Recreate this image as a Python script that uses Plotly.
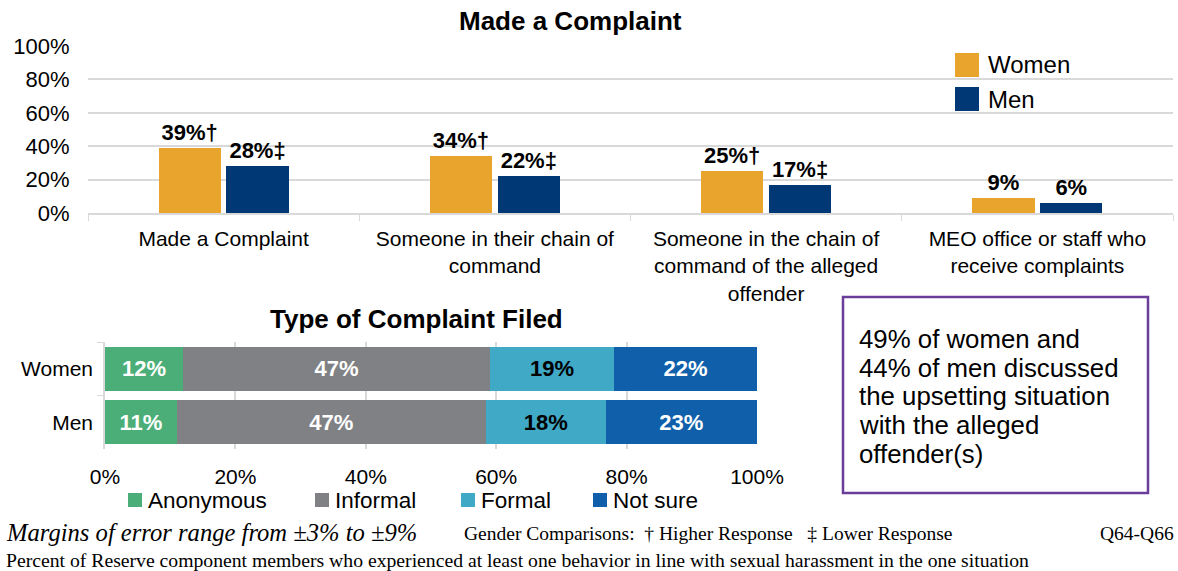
import plotly.graph_objects as go

# ---- data ----
categories = ["Made a Complaint", "Someone in their chain of<br>command",
              "Someone in the chain of<br>command of the alleged<br>offender",
              "MEO office or staff who<br>receive complaints"]
women_vals = [39, 34, 25, 9]
men_vals = [28, 22, 17, 6]
women_marks = ["†", "†", "†", ""]
men_marks = ["‡", "‡", "‡", ""]
gender_names = ["Women", "Men"]
gender_colors = ["#E8A42C", "#003876"]

groups = ["Women", "Men"]
type_names = ["Anonymous", "Informal", "Formal", "Not sure"]
type_women = [12.0, 47.0, 19.1, 21.9]
type_men = [11.0, 47.4, 18.4, 23.2]
type_colors = ["#4BAE78", "#808184", "#3FA9C6", "#0F5FAA"]
type_text_colors = ["white", "white", "black", "white"]

box_lines = ["49% of women and", "44% of men discussed", "the upsetting situation",
             "with the alleged", "offender(s)"]

W, H = 1178, 571
def px(x): return x / W
def py(y): return 1 - y / H

SANS = "Liberation Sans, Arial, sans-serif"
SERIF = "Liberation Serif, Times New Roman, serif"
GRID = "#D9D9D9"

fig = go.Figure()

for name, vals, marks, col, og in [(gender_names[0], women_vals, women_marks, gender_colors[0], "w"),
                                   (gender_names[1], men_vals, men_marks, gender_colors[1], "m")]:
    fig.add_trace(go.Bar(
        x=categories, y=vals, name=name, marker_color=col, marker_line_width=0,
        offsetgroup=og,
        text=[f"{v}%{m}" for v, m in zip(vals, marks)],
        textposition="outside",
        textfont=dict(size=22, color="black", family=SANS, weight="bold"),
        cliponaxis=False, xaxis="x", yaxis="y", showlegend=False))

for i, name in enumerate(type_names):
    vals = [type_women[i], type_men[i]]
    fig.add_trace(go.Bar(
        y=groups, x=vals, orientation="h", name=name, marker_color=type_colors[i],
        marker_line_width=0, width=0.82,
        text=[f"{round(v)}%" for v in vals], textposition="inside", insidetextanchor="middle",
        textfont=dict(size=22, color=type_text_colors[i], family=SANS, weight="bold"),
        xaxis="x2", yaxis="y2", showlegend=False))

fig.update_layout(
    width=W, height=H, margin=dict(l=0, r=0, t=0, b=0, autoexpand=False),
    paper_bgcolor="white", plot_bgcolor="white",
    font=dict(family=SANS, color="black"),
    barmode="stack", bargap=0.5, bargroupgap=0.08,
    xaxis=dict(domain=[px(88), px(1173)], anchor="y", showgrid=False, automargin=False,
               showline=True, linecolor=GRID, linewidth=1.5,
               ticks="outside", tickson="boundaries", ticklen=6, tickcolor=GRID,
               tickfont=dict(size=21), ticklabelstandoff=6),
    yaxis=dict(domain=[py(213), py(46)], anchor="x", range=[0, 100], dtick=20,
               ticksuffix="%", showgrid=True, gridcolor=GRID, gridwidth=2,
               zeroline=False, tickfont=dict(size=22), ticks="outside", ticklen=13,
               tickcolor="rgba(0,0,0,0)", automargin=False),
    xaxis2=dict(domain=[px(105), px(757)], anchor="y2", range=[0, 100], dtick=20,
                ticksuffix="%", showgrid=True, gridcolor=GRID, gridwidth=1.5,
                zeroline=False, tickfont=dict(size=21), ticks="outside", ticklen=9,
                tickcolor="rgba(0,0,0,0)", automargin=False),
    yaxis2=dict(domain=[py(449), py(342)], anchor="x2", autorange="reversed",
                showline=True, linecolor=GRID, linewidth=1.5, ticks="outside",
                tickson="boundaries", ticklen=6, tickcolor=GRID,
                tickfont=dict(size=21), ticklabelstandoff=6, automargin=False),
    showlegend=False,
)

# legend for the top chart (large square swatches)
for i, (name, col) in enumerate(zip(gender_names, gender_colors)):
    yc = 65 + 34 * i
    fig.add_shape(type="rect", xref="paper", yref="paper", x0=px(955), x1=px(979),
                  y0=py(yc + 12), y1=py(yc - 12), fillcolor=col, line=dict(width=0))
    fig.add_annotation(text=name, x=px(986), y=py(yc), xref="paper", yref="paper",
                       showarrow=False, xanchor="left", yanchor="middle",
                       font=dict(size=24, color="black"))

# legend for the bottom chart
legend2_x = [128, 315, 461, 593]
for name, col, lx in zip(type_names, type_colors, legend2_x):
    fig.add_shape(type="rect", xref="paper", yref="paper", x0=px(lx), x1=px(lx + 14),
                  y0=py(507), y1=py(493), fillcolor=col, line=dict(width=0))
    fig.add_annotation(text=name, x=px(lx + 18), y=py(500), xref="paper", yref="paper",
                       showarrow=False, xanchor="left", yanchor="middle",
                       font=dict(size=22.5, color="black"))

fig.add_annotation(text="<b>Made a Complaint</b>", x=px(570), y=py(21), xref="paper", yref="paper",
                   showarrow=False, font=dict(size=26), xanchor="center", yanchor="middle")
fig.add_annotation(text="<b>Type of Complaint Filed</b>", x=px(416), y=py(319), xref="paper",
                   yref="paper", showarrow=False, font=dict(size=26), xanchor="center",
                   yanchor="middle")

fig.add_shape(type="rect", xref="paper", yref="paper", x0=px(843), x1=px(1148),
              y0=py(493), y1=py(297), line=dict(color="#6A3D9A", width=2.5))
for i, line in enumerate(box_lines):
    fig.add_annotation(text=line, x=px(857), y=py(339 + 28.7 * i), xref="paper", yref="paper",
                       showarrow=False, xanchor="left", yanchor="middle",
                       font=dict(size=25.8, color="black"))

fig.add_annotation(text="<i>Margins of error range from ±3% to ±9%</i>", x=px(4), y=py(532),
                   xref="paper", yref="paper", showarrow=False, xanchor="left",
                   yanchor="middle", font=dict(size=24.6, family=SERIF))
fig.add_annotation(text="Gender Comparisons:  † Higher Response   ‡ Lower Response",
                   x=px(462), y=py(533), xref="paper", yref="paper", showarrow=False,
                   xanchor="left", yanchor="middle", font=dict(size=19.5, family=SERIF))
fig.add_annotation(text="Q64-Q66", x=px(1176), y=py(533), xref="paper", yref="paper",
                   showarrow=False, xanchor="right", yanchor="middle",
                   font=dict(size=19.5, family=SERIF))
fig.add_annotation(text="Percent of Reserve component members who experienced at least one behavior in line with sexual harassment in the one situation",
                   x=px(4), y=py(560), xref="paper", yref="paper", showarrow=False,
                   xanchor="left", yanchor="middle", font=dict(size=19.7, family=SERIF))

fig.write_html("out.html", config={"displayModeBar": False},
               post_script="document.body.style.margin='0';document.body.style.overflow='hidden';")
